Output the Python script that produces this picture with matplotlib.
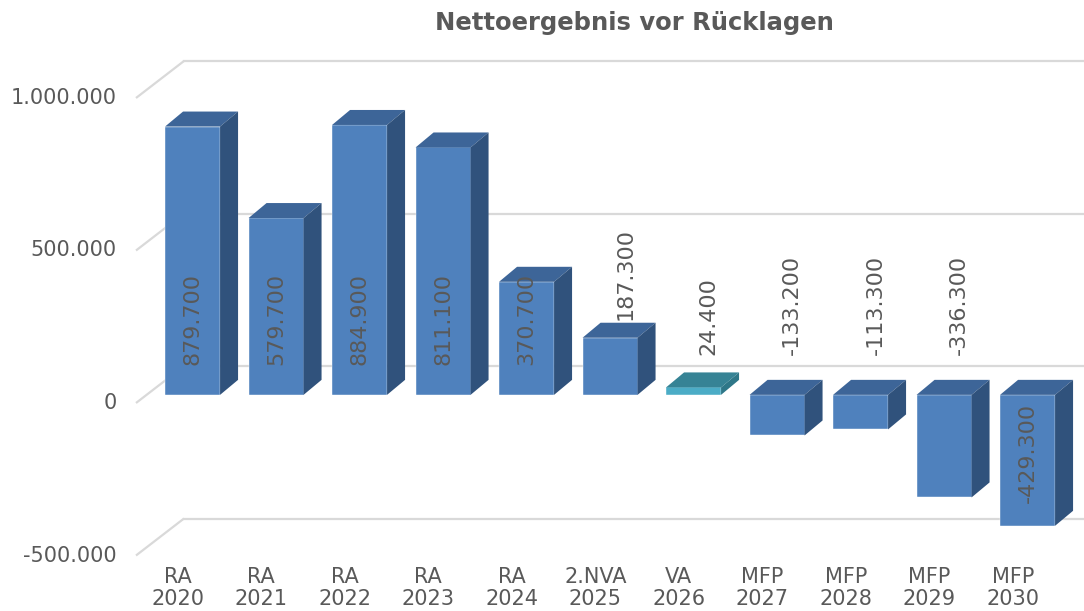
import numpy as np
import matplotlib
matplotlib.use("Agg")
import matplotlib.pyplot as plt
from matplotlib.patches import Polygon

categories = ["RA\n2020", "RA\n2021", "RA\n2022", "RA\n2023", "RA\n2024", "2.NVA\n2025",
              "VA\n2026", "MFP\n2027", "MFP\n2028", "MFP\n2029", "MFP\n2030"]
values = [879700, 579700, 884900, 811100, 370700, 187300,
          24400, -133200, -113300, -336300, -429300]
label_inside = [True, True, True, True, True, False,
                False, False, False, False, True]
yticks = [-500000, 0, 500000, 1000000]
ytick_labels = ["-500.000", "0", "500.000", "1.000.000"]

title = "Nettoergebnis vor Rücklagen"
txt_col = "#595959"
grid_col = "#d9d9d9"
front_col = ["#4f81bd"] * 11
front_col[6] = "#4bacc6"
top_col = ["#3d6598"] * 11
top_col[6] = "#368395"
side_col = ["#30527c"] * 11
side_col[6] = "#2e7788"

# pseudo-3D geometry (in data units)
px_x = 83.5          # pixels per category
px_y = 0.000305      # pixels per unit value
wall_dx, wall_dy = 48 / px_x, 37 / px_y       # full depth offset
front_d = 0.22                                 # bar front position in depth
bar_dx, bar_dy = 18 / px_x, 15 / px_y         # bar depth
bar_w = 55 / px_x
x_left_wall = -46 / px_x

W, H = 1084, 611
fig = plt.figure(figsize=(W / 100, H / 100), dpi=100)
ax = fig.add_axes([0, 0, 1, 1])
ax.set_xlim(-182 / px_x, (W - 182) / px_x)
ax.set_ylim(-(H - 403) / px_y, 403 / px_y)
ax.axis("off")

plt.rcParams["font.family"] = "DejaVu Sans"

# gridlines: left wall diagonals + back wall
for v, lab in zip(yticks, ytick_labels):
    ax.plot([x_left_wall, x_left_wall + wall_dx], [v, v + wall_dy],
            color=grid_col, lw=1.6, zorder=1, solid_capstyle="butt")
    ax.plot([x_left_wall + wall_dx, ax.get_xlim()[1] + 1], [v + wall_dy, v + wall_dy],
            color=grid_col, lw=1.6, zorder=1)
    ax.text(x_left_wall - 19 / px_x, v, lab, ha="right", va="center",
            fontsize=15, color=txt_col)

x = np.arange(len(values))
ox, oy = front_d * wall_dx, front_d * wall_dy
xf = x + ox                      # front face centers
ax.bar(xf, values, width=bar_w, bottom=oy, color=front_col, zorder=3,
       edgecolor="white", linewidth=0.3)

for i, v in enumerate(values):
    lo, hi = min(v, 0) + oy, max(v, 0) + oy
    xl, xr = xf[i] - bar_w / 2, xf[i] + bar_w / 2
    top = [(xl, hi), (xr, hi), (xr + bar_dx, hi + bar_dy), (xl + bar_dx, hi + bar_dy)]
    side = [(xr, lo), (xr, hi), (xr + bar_dx, hi + bar_dy), (xr + bar_dx, lo + bar_dy)]
    ax.add_patch(Polygon(top, closed=True, fc=top_col[i], ec="none", zorder=3))
    ax.add_patch(Polygon(side, closed=True, fc=side_col[i], ec="none", zorder=3))

    lab = f"{v / 1000:.3f}"
    if label_inside[i]:
        if v > 0:
            ax.text(xf[i], oy + 30 / px_y, lab, rotation=90, ha="center", va="bottom",
                    fontsize=16, color=txt_col, zorder=5)
        else:
            ax.text(xf[i], oy - 8 / px_y, lab, rotation=90, ha="center", va="top",
                    fontsize=16, color=txt_col, zorder=5)
    else:
        yb = max(hi + bar_dy + 3 / px_y, oy + 40 / px_y)
        ax.text(xf[i] + 0.18, yb, lab, rotation=90, ha="center", va="bottom",
                fontsize=16, color=txt_col, zorder=5)

for i, c in enumerate(categories):
    ax.text(x[i] - 0.05, 1 - 588 / H, c, transform=ax.get_xaxis_transform(),
            ha="center", va="center", fontsize=15, color=txt_col, linespacing=1.1)

fig.text(634 / W, 1 - 23 / H, title, ha="center", va="center", fontsize=17.5,
         fontweight="bold", color=txt_col)

fig.savefig("out.png", dpi=100)
